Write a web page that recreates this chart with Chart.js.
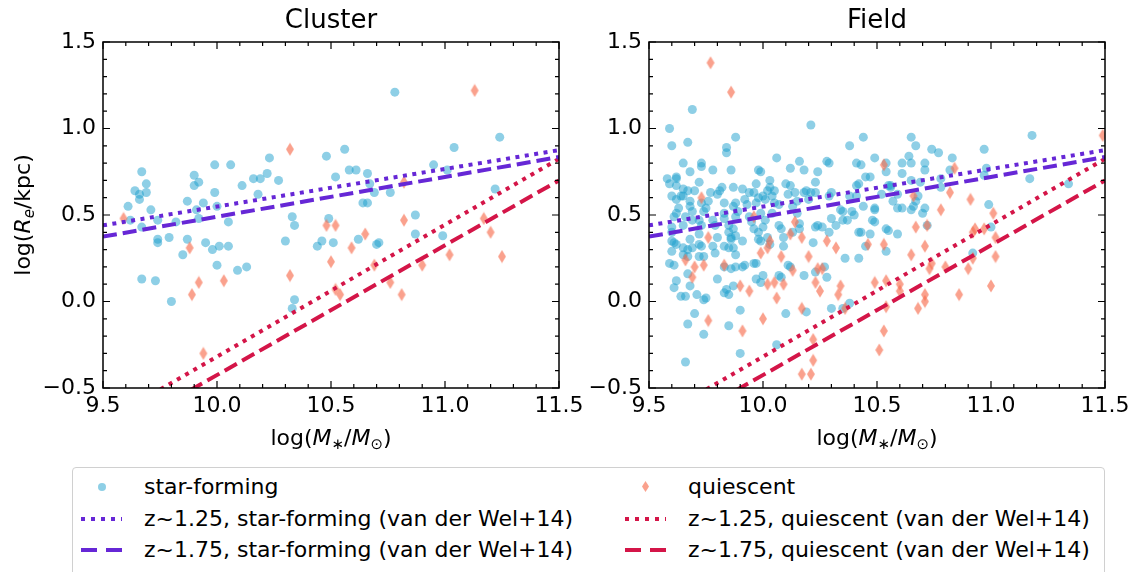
<!DOCTYPE html>
<html lang="en">
<head>
<meta charset="UTF-8">
<title>Size-mass relation: cluster vs field</title>
<script src="https://cdn.jsdelivr.net/npm/chart.js"></script>
<style>
  body { margin: 0; background: #fff; font-family: "DejaVu Sans", sans-serif; }
  #wrap { position: relative; width: 1139px; height: 572px; overflow: hidden; }
  #cluster { position: absolute; left: 0; top: 0; }
  #field { position: absolute; left: 590px; top: 0; }
  #legendBox { position: absolute; left: 72px; top: 467px; width: 1033px; height: 120px;
               border: 1px solid #d0d0d0; border-radius: 4px; box-sizing: border-box; }
  .txt { position: absolute; font-size: 22px; line-height: 26px; color: #000; white-space: nowrap; }
  .h { position: absolute; width: 41px; height: 4px; }
  .dot  { background: repeating-linear-gradient(90deg, var(--c) 0 4px, transparent 4px 10px); }
  .dash { background: repeating-linear-gradient(90deg, var(--c) 0 16px, transparent 16px 25px); }
  .circ { position: absolute; width: 8px; height: 8px; border-radius: 50%; background: rgba(30,160,205,0.5); }
  .diam { position: absolute; width: 7px; height: 11px; background: rgba(248,110,80,0.65);
          clip-path: polygon(50% 0, 100% 50%, 50% 100%, 0 50%); }
</style>
</head>
<body>
<div id="wrap">
  <canvas id="cluster" width="590" height="460"></canvas>
  <canvas id="field" width="549" height="460"></canvas>
  <div id="legendBox"></div>
  <span class="circ" style="left:98px; top:483px;"></span>
  <span class="txt" style="left:144px; top:474px;">star-forming</span>
  <span class="h dot" style="--c:#6627d6; left:81px; top:517px;"></span>
  <span class="txt" style="left:144px; top:506px;">z~1.25, star-forming (van der Wel+14)</span>
  <span class="h dash" style="--c:#6627d6; left:81px; top:548px;"></span>
  <span class="txt" style="left:144px; top:537px;">z~1.75, star-forming (van der Wel+14)</span>
  <span class="diam" style="left:642px; top:481px;"></span>
  <span class="txt" style="left:688px; top:474px;">quiescent</span>
  <span class="h dot" style="--c:#d41548; left:625px; top:517px;"></span>
  <span class="txt" style="left:688px; top:506px;">z~1.25, quiescent (van der Wel+14)</span>
  <span class="h dash" style="--c:#d41548; left:625px; top:548px;"></span>
  <span class="txt" style="left:688px; top:537px;">z~1.75, quiescent (van der Wel+14)</span>
</div>
<script>
// log stellar mass / log effective radius, cluster sample
const clusterSfMass = [9.61, 9.62, 9.64, 9.66, 9.66, 9.67, 9.67, 9.69, 9.69, 9.67, 9.71, 9.74, 9.74, 9.74, 9.73,
  9.79, 9.80, 9.82, 9.85, 9.87, 9.87, 9.90, 9.90, 9.91, 9.92, 9.92, 9.94, 9.95, 9.98, 9.99, 9.99, 10.00, 10.00,
  10.01, 10.05, 10.05, 10.06, 10.09, 10.11, 10.13, 10.16, 10.18, 10.19, 10.22, 10.23, 10.27, 10.30, 10.33, 10.34,
  10.34, 10.33, 10.44, 10.46, 10.48, 10.49, 10.51, 10.52, 10.56, 10.58, 10.61, 10.62, 10.64, 10.66, 10.66, 10.67,
  10.69, 10.70, 10.71, 10.76, 10.78, 10.87, 10.87, 10.95, 10.99, 11.01, 11.04, 11.22, 11.24];
const clusterSfSize = [0.55, 0.47, 0.64, 0.62, 0.59, 0.75, 0.43, 0.68, 0.63, 0.13, 0.53, 0.47, 0.36, 0.34, 0.12,
  0.37, 0.00, 0.46, 0.27, 0.58, 0.36, 0.73, 0.67, 0.53, 0.69, 0.48, 0.57, 0.34, 0.30, 0.79, 0.63, 0.55, 0.21,
  0.32, 0.46, 0.32, 0.79, 0.18, 0.67, 0.20, 0.71, 0.62, 0.71, 0.74, 0.83, 0.70, 0.35, 0.49, 0.44,
  0.01, -0.04, 0.32, 0.35, 0.84, 0.48, 0.34, 0.72, 0.88, 0.76, 0.76, 0.36, 0.57, 0.74, 0.57, 0.68,
  0.63, 0.33, 0.34, 0.63, 1.21, 0.50, 0.39, 0.79, 0.38, 0.76, 0.89, 0.65, 0.95];
const clusterQMass = [9.59, 9.88, 9.89, 9.92, 9.94, 10.03, 10.32, 10.32, 10.48, 10.50, 10.52, 10.52, 10.54, 10.59,
  10.65, 10.69, 10.76, 10.81, 10.82, 10.82, 10.90, 11.02, 11.13, 11.17, 11.20, 11.25];
const clusterQSize = [0.48, 0.31, 0.04, 0.11, -0.30, 0.12, 0.88, 0.15, 0.44, 0.23, 0.44, 0.07, 0.04, 0.31,
  0.39, 0.21, 0.11, 0.04, 0.69, 0.47, 0.21, 0.27, 1.22, 0.48, 0.40, 0.26];

// field sample
const fieldSfMass = [9.69, 9.59, 9.60, 9.67, 9.88, 9.84, 9.84, 10.21, 10.38, 10.44, 10.65, 10.67, 10.74, 10.77, 10.83,
  10.97, 11.18, 11.17, 11.34, 10.99, 11.00, 10.92, 10.06, 9.86, 9.65, 9.73, 9.73, 9.78, 9.68, 10.12, 10.16, 10.18,
  10.28, 10.29, 10.24, 10.23, 9.98, 9.99, 10.03, 10.49, 10.41, 10.43, 10.47, 10.61, 10.61, 10.64, 10.65, 10.71,
  10.71, 10.69, 10.65, 10.82, 10.78, 10.78, 10.98, 10.97, 10.54, 10.54, 10.56, 10.52, 10.59, 10.61, 10.66, 10.67,
  10.68, 10.65, 10.70, 10.71, 10.72, 10.49, 10.48, 10.49, 10.54, 10.55, 10.59, 10.54, 10.47, 10.45, 10.42, 10.42,
  10.36, 10.38, 10.35, 10.30, 10.19, 10.10, 10.06, 9.90, 9.90, 9.85, 9.74, 9.67, 9.70, 9.66, 9.75, 9.74, 9.71,
  9.64, 9.66, 9.61, 9.62, 9.59, 9.61, 9.67, 9.68, 9.67, 9.65, 9.60, 9.61, 9.60, 9.62, 9.65, 9.67, 9.69, 9.68,
  9.60, 9.60, 9.61, 9.62, 9.63, 9.62, 9.64, 9.65, 9.65, 9.67, 9.68, 9.68, 9.69, 9.69, 9.66, 9.65, 9.72, 9.73,
  9.72, 9.73, 9.72, 9.74, 9.72, 9.73, 9.74, 9.75, 9.72, 9.70, 9.77, 9.76, 9.78, 9.79, 9.80, 9.78, 9.79, 9.80,
  9.81, 9.82, 9.83, 9.83, 9.83, 9.85, 9.85, 9.86, 9.85, 9.83, 9.83, 9.86, 9.80, 9.84, 9.85, 9.83, 9.87, 9.87,
  9.88, 9.87, 9.88, 9.89, 9.88, 9.87, 9.88, 9.86, 9.91, 9.88, 9.91, 9.92, 9.87, 9.91, 9.92, 9.93, 9.94, 9.94,
  9.96, 9.97, 9.98, 9.97, 9.99, 9.95, 9.96, 9.98, 9.98, 9.97, 9.96, 10.00, 10.01, 10.02, 10.03, 10.04, 10.05,
  10.04, 10.01, 10.00, 10.02, 10.03, 9.99, 9.97, 9.99, 10.00, 10.05, 10.07, 10.07, 10.08, 10.09, 10.09, 10.07,
  10.08, 10.10, 10.11, 10.12, 10.14, 10.15, 10.13, 10.15, 10.16, 10.16, 10.13, 10.12, 10.11, 10.18, 10.19, 10.21,
  10.20, 10.22, 10.18, 10.23, 10.24, 10.23, 10.26, 10.23, 10.28, 10.27, 10.29, 10.30, 10.29, 10.30, 10.32, 10.34,
  10.35, 10.35, 10.37, 10.38, 10.39, 10.40, 10.41, 10.41, 10.42, 10.45, 10.43, 10.44, 10.49, 10.55, 10.56, 10.57,
  10.59, 9.62, 9.58, 9.59, 9.62, 9.60, 9.62];
const fieldSfSize = [1.11, 1.00, 0.90, 0.92, 0.95, 0.89, 0.86, 1.02, 0.90, 0.95, 0.95, 0.90, 0.88, 0.86, 0.83,
  0.88, 0.96, 0.71, 0.68, 0.56, 0.43, 0.28, 0.83, 0.76, 0.80, 0.80, 0.78, 0.76, 0.75, 0.77, 0.81, 0.76,
  0.81, 0.80, 0.75, 0.69, 0.76, 0.75, 0.70, 0.83, 0.80, 0.79, 0.72, 0.80, 0.74, 0.84, 0.80, 0.80,
  0.76, 0.69, 0.70, 0.76, 0.71, 0.66, 0.77, 0.73, 0.80, 0.75, 0.67, 0.62, 0.62, 0.54, 0.55, 0.58,
  0.61, 0.53, 0.51, 0.54, 0.44, 0.54, 0.47, 0.53, 0.42, 0.41, 0.39, 0.29, 0.39, 0.32, 0.40, 0.25,
  0.25, -0.01, -0.04, -0.04, -0.06, -0.07, -0.25, -0.05, -0.30, -0.14, -0.19, -0.13, -0.07, -0.35, 0.02, 0.01, 0.04,
  0.03, 0.03, 0.08, 0.12, 0.22, 0.21, 0.16, 0.09, 0.26, 0.27, 0.29, 0.34, 0.35, 0.33, 0.31, 0.30, 0.31, 0.36,
  0.40, 0.43, 0.49, 0.51, 0.54, 0.59, 0.61, 0.61, 0.65, 0.64, 0.58, 0.55, 0.52, 0.47, 0.49, 0.44, 0.47, 0.44,
  0.39, 0.32, 0.33, 0.26, 0.26, 0.57, 0.52, 0.54, 0.69, 0.64, 0.63, 0.58, 0.47, 0.44, 0.37, 0.32, 0.28, 0.62,
  0.64, 0.66, 0.57, 0.51, 0.48, 0.44, 0.40, 0.36, 0.31, 0.32, 0.20, 0.19, 0.13, 0.07, 0.04, 0.05, 0.09, 0.31,
  0.27, 0.55, 0.57, 0.52, 0.49, 0.42, 0.38, 0.37, 0.35, 0.20, 0.20, 0.21, 0.66, 0.65, 0.59, 0.56, 0.49, 0.63,
  0.63, 0.68, 0.60, 0.57, 0.51, 0.46, 0.42, 0.40, 0.36, 0.22, 0.22, 0.61, 0.59, 0.64, 0.66, 0.61, 0.57,
  0.51, 0.47, 0.43, 0.37, 0.33, 0.35, 0.13, 0.11, 0.15, 0.64, 0.56, 0.44, 0.42, 0.37, 0.32, 0.15,
  0.14, 0.68, 0.62, 0.67, 0.63, 0.58, 0.55, 0.51, 0.45, 0.42, 0.40, 0.20, 0.21, 0.63, 0.64, 0.63,
  0.59, 0.34, 0.15, 0.63, 0.44, 0.43, 0.43, 0.17, 0.14, 0.20, 0.40, 0.63, 0.61, 0.48, 0.44, 0.53,
  0.52, 0.47, 0.47, 0.61, 0.52, 0.50, 0.67, 0.61, 0.68, 0.72, 0.40, 0.55, 0.46, 0.67, 0.66, 0.58,
  0.54, 0.71, 0.71, 0.68, 0.72, 0.61, 0.67];
const fieldQMass = [9.77, 9.86, 9.73, 9.66, 9.70, 9.69, 9.74, 9.76, 9.76, 9.83, 9.91, 9.90, 9.94, 9.96, 9.99, 10.00,
  10.02, 10.03, 10.02, 10.05, 10.06, 10.08, 10.09, 10.12, 10.13, 10.14, 10.17, 10.17, 10.17, 10.20, 10.21, 10.22,
  10.22, 10.23, 10.24, 10.25, 10.26, 10.28, 10.32, 10.33, 10.34, 10.36, 10.46, 10.49, 10.51, 10.53, 10.53, 10.54,
  10.53, 10.54, 10.60, 10.60, 10.65, 10.66, 10.67, 10.68, 10.71, 10.71, 10.71, 10.72, 10.73, 10.74, 10.78, 10.80,
  10.82, 10.84, 10.86, 10.90, 10.91, 10.92, 10.92, 10.93, 10.97, 11.00, 11.01, 11.02, 11.02, 11.49];
const fieldQSize = [1.38, 1.21, 0.60, 0.24, 0.20, 0.14, 0.21, 0.37, -0.11, 0.21, -0.17, 0.09, 0.06, 0.49, 0.28, -0.10,
  0.31, 0.35, 0.10, 0.11, 0.02, 0.26, 0.10, 0.39, 0.18, 0.46, 0.37, -0.04, -0.42, 0.26, -0.42, -0.22,
  -0.34, 0.11, 0.19, 0.06, 0.19, 0.35, 0.31, 0.04, 0.09, -0.04, 0.33, 0.11, -0.28, 0.79, 0.33, 0.12,
  -0.17, -0.03, 0.10, 0.06, 0.27, 0.61, 0.43, -0.04, 0.32, 0.04, 0.00, 0.44, 0.19, 0.22, 0.53, 0.20,
  0.63, 0.77, 0.04, 0.19, 0.59, 0.25, 0.40, 0.42, 0.42, 0.09, 0.51, 0.37, 0.26, 0.96];

// van der Wel+14 relations, endpoints at the edges of the mass range
const relMass = [9.5, 11.5];
const sfZ125Size = [0.44, 0.875];
const sfZ175Size = [0.375, 0.835];
const qZ125Size = [-0.70, 0.825];
const qZ175Size = [-0.80, 0.70];

const xTicks = [9.5, 10.0, 10.5, 11.0, 11.5];
const yTicks = [-0.5, 0.0, 0.5, 1.0, 1.5];

const SF_COLOR = 'rgba(30,160,205,0.5)';
const Q_COLOR = 'rgba(248,110,80,0.65)';
const PURPLE = '#6627d6';
const CRIMSON = '#d41548';
const FONT = '"DejaVu Sans", sans-serif';

// thin diamond marker
const diamond = document.createElement('canvas');
diamond.width = 10; diamond.height = 14;
(function () {
  const g = diamond.getContext('2d');
  g.fillStyle = Q_COLOR;
  g.beginPath();
  g.moveTo(5, 0.5); g.lineTo(9, 7); g.lineTo(5, 13.5); g.lineTo(1, 7);
  g.closePath(); g.fill();
})();

const pts = (xs, ys) => xs.map((x, i) => ({ x: x, y: ys[i] }));

function relation(sizes, color, dash, order) {
  return {
    data: pts(relMass, sizes), showLine: true, borderColor: color, borderWidth: 4,
    borderDash: dash, pointRadius: 0, fill: false, order: order
  };
}

function richText(ctx, parts, x, y, rotate) {
  let w = 0;
  parts.forEach(p => { ctx.font = p.f; w += ctx.measureText(p.t).width; });
  ctx.save();
  ctx.translate(x, y);
  if (rotate) ctx.rotate(-Math.PI / 2);
  ctx.fillStyle = '#000';
  ctx.textBaseline = 'alphabetic';
  ctx.textAlign = 'left';
  let cx = -w / 2;
  parts.forEach(p => { ctx.font = p.f; ctx.fillText(p.t, cx, p.dy || 0); cx += ctx.measureText(p.t).width; });
  ctx.restore();
}

const reg = '22px ' + FONT, ita = 'italic 22px ' + FONT, sub = '15px ' + FONT, subIta = 'italic 15px ' + FONT;
const xLabel = [{ t: 'log(', f: reg }, { t: 'M', f: ita }, { t: '\u2217', f: sub, dy: 4 }, { t: '/', f: reg },
  { t: 'M', f: ita }, { t: '\u2299', f: sub, dy: 4 }, { t: ')', f: reg }];
const yLabel = [{ t: 'log(', f: reg }, { t: 'R', f: ita }, { t: 'e', f: subIta, dy: 4 }, { t: '/kpc)', f: reg }];

// frame, inward major/minor ticks on all sides, titles and axis labels
const decor = {
  id: 'decor',
  afterDatasetsDraw(chart, args, opts) {
    const { ctx, chartArea: a, scales: { x, y } } = chart;
    ctx.save();
    ctx.strokeStyle = '#000';
    ctx.lineWidth = 1.2;
    ctx.beginPath();
    for (let i = 0; i <= 20; i++) {
      const px = x.getPixelForValue(9.5 + i * 0.1);
      const len = i % 5 === 0 ? 7 : 4;
      ctx.moveTo(px, a.bottom); ctx.lineTo(px, a.bottom - len);
      ctx.moveTo(px, a.top); ctx.lineTo(px, a.top + len);
    }
    for (let i = 0; i <= 20; i++) {
      const py = y.getPixelForValue(-0.5 + i * 0.1);
      const len = i % 5 === 0 ? 7 : 4;
      ctx.moveTo(a.left, py); ctx.lineTo(a.left + len, py);
      ctx.moveTo(a.right, py); ctx.lineTo(a.right - len, py);
    }
    ctx.stroke();
    ctx.lineWidth = 1.5;
    ctx.strokeRect(a.left, a.top, a.right - a.left, a.bottom - a.top);
    ctx.restore();
  },
  afterDraw(chart, args, opts) {
    const { ctx, chartArea: a } = chart;
    const cx = (a.left + a.right) / 2;
    ctx.save();
    ctx.fillStyle = '#000';
    ctx.font = '26px ' + FONT;
    ctx.textAlign = 'center';
    ctx.textBaseline = 'alphabetic';
    ctx.fillText(opts.title, cx, 28);
    ctx.restore();
    richText(ctx, xLabel, cx, 445, false);
    if (opts.yLabel) richText(ctx, yLabel, 30, (a.top + a.bottom) / 2, true);
  }
};

const fmt = v => (v < 0 ? '\u2212' : '') + Math.abs(v).toFixed(1);

function makeChart(id, title, sfMass, sfSize, qMass, qSize, yAxisWidth, padRight, withYLabel) {
  new Chart(document.getElementById(id), {
    type: 'scatter',
    data: {
      datasets: [
        relation(sfZ125Size, PURPLE, [4, 5.5], 1),
        relation(sfZ175Size, PURPLE, [14, 6], 1),
        relation(qZ125Size, CRIMSON, [4, 5.5], 1),
        relation(qZ175Size, CRIMSON, [14, 6], 1),
        { data: pts(qMass, qSize), pointStyle: diamond, order: 2 },
        { data: pts(sfMass, sfSize), pointRadius: 4.5, backgroundColor: SF_COLOR, borderWidth: 0, order: 3 }
      ]
    },
    options: {
      responsive: false,
      animation: false,
      events: [],
      layout: { padding: { left: 0, right: padRight, top: 42, bottom: 0 } },
      plugins: { legend: { display: false }, tooltip: { enabled: false }, decor: { title: title, yLabel: withYLabel } },
      scales: {
        x: {
          type: 'linear', min: 9.5, max: 11.5,
          afterBuildTicks: s => { s.ticks = xTicks.map(v => ({ value: v })); },
          afterFit: s => { s.height = 72; },
          grid: { display: false, drawTicks: false }, border: { display: false },
          ticks: { callback: fmt, color: '#000', font: { family: FONT, size: 22 }, padding: 5, maxRotation: 0 }
        },
        y: {
          type: 'linear', min: -0.5, max: 1.5,
          afterBuildTicks: s => { s.ticks = yTicks.map(v => ({ value: v })); },
          afterFit: s => { s.width = yAxisWidth; },
          grid: { display: false, drawTicks: false }, border: { display: false },
          ticks: { callback: fmt, color: '#000', font: { family: FONT, size: 22 }, padding: 7 }
        }
      }
    },
    plugins: [decor]
  });
}

makeChart('cluster', 'Cluster', clusterSfMass, clusterSfSize, clusterQMass, clusterQSize, 103, 31, true);
makeChart('field', 'Field', fieldSfMass, fieldSfSize, fieldQMass, fieldQSize, 59, 34, false);
</script>
</body>
</html>
